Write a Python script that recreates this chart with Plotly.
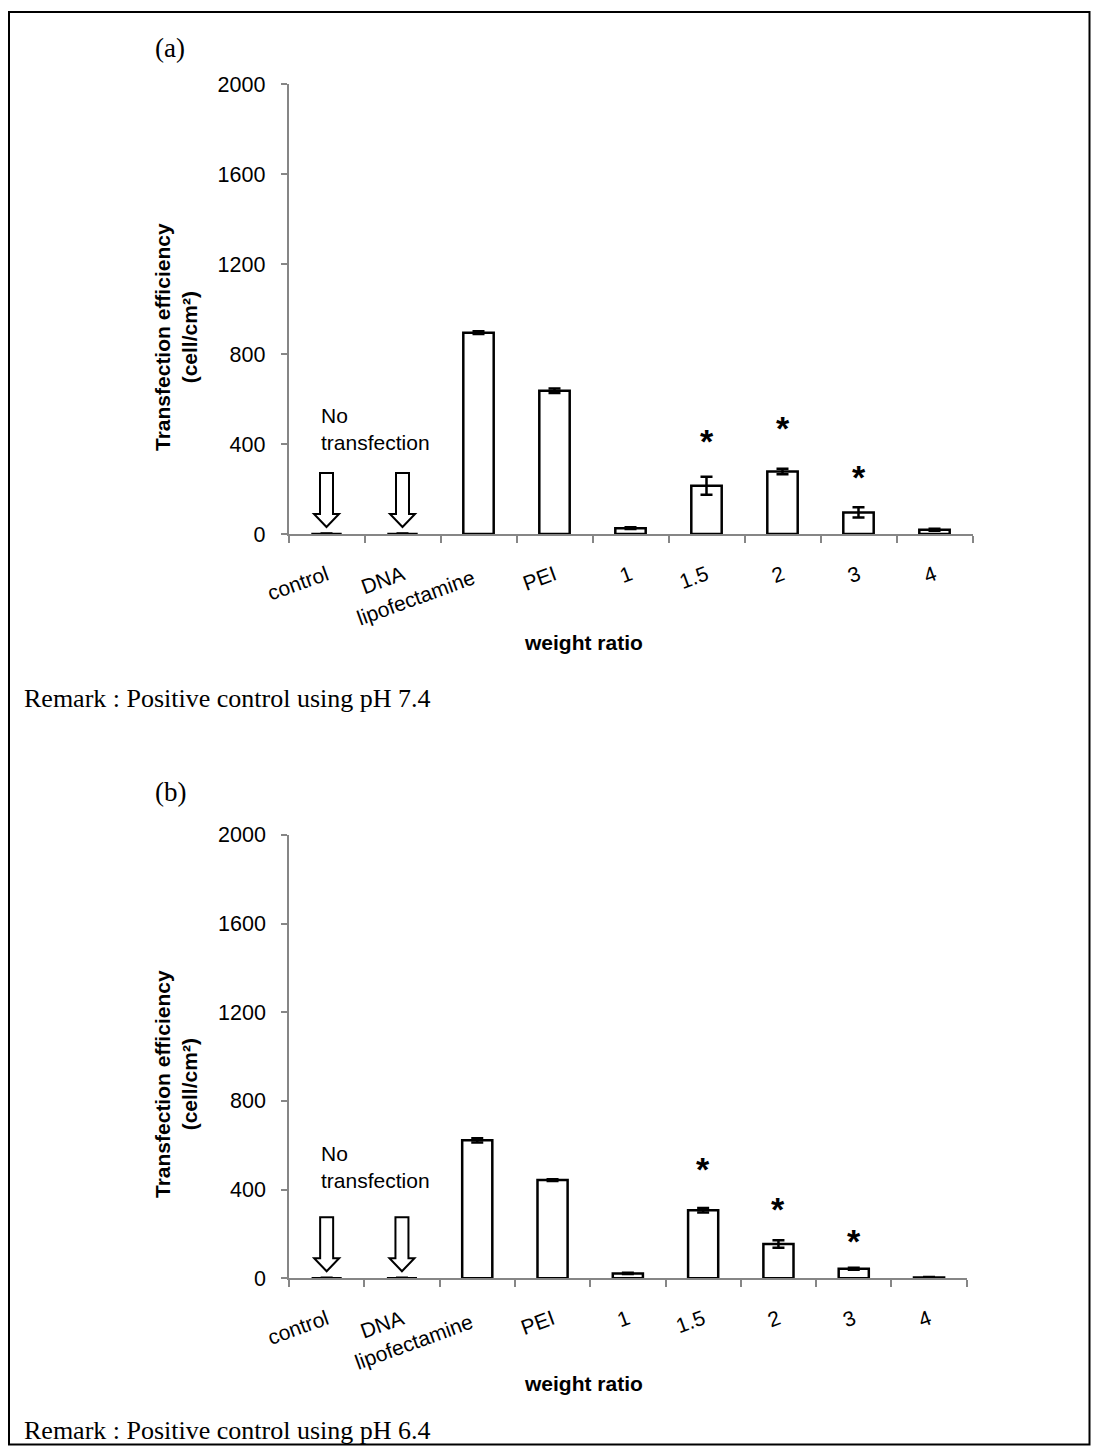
import plotly.graph_objects as go

# ---------------- data ----------------
categories = ["control", "DNA", "lipofectamine", "PEI", "1", "1.5", "2", "3", "4"]
tick_labels = ["control", "DNA", "", "PEI", "1", "1.5", "2", "3", "4"]
dropped_label = "lipofectamine"   # drawn one line lower (staggered label)

eff_a = [0, 0, 895, 637, 26, 215, 278, 96, 19]
err_a = [2, 2, 6, 10, 4, 40, 12, 23, 4]
eff_b = [0, 0, 622, 443, 22, 307, 155, 43, 4]
err_b = [2, 2, 10, 4, 3, 10, 17, 5, 2]

star_cats = ["1.5", "2", "3"]
star_y_a = [428, 483, 265]
star_y_b = [507, 328, 182]

no_transfection_cats = ["control", "DNA"]
y_ticks = [0, 400, 800, 1200, 1600, 2000]

# ---------------- layout helpers ----------------
# figure is sized so that, with the page's 8px body margin, it fills 1099x1454 exactly
W, H = 1083, 1438
OFF = 8
def fx(px):
    return (px - OFF) / W
def fy(py):
    return 1 - (py - OFF) / H

FONT = "Liberation Sans"
SERIF = "Liberation Serif"
AXIS_GRAY = "#868686"

fig = go.Figure()

panels = [
    dict(vals=eff_a, errs=err_a, stars=star_y_a, xa="x", ya="y",
         xdom=[fx(288.5), fx(972.5)], ydom=[fy(534), fy(84)],
         label="(a)", label_y=48, remark="Remark : Positive control using pH 7.4", remark_y=698,
         title_y=337, xtitle_y=642, nt_y=429.5),
    dict(vals=eff_b, errs=err_b, stars=star_y_b, xa="x2", ya="y2",
         xdom=[fx(289), fx(966.7)], ydom=[fy(1278.3), fy(834.8)],
         label="(b)", label_y=792, remark="Remark : Positive control using pH 6.4", remark_y=1430,
         title_y=1084, xtitle_y=1383, nt_y=1166.5),
]

annotations = []
shapes = []

for i, p in enumerate(panels):
    fig.add_trace(go.Bar(
        x=categories, y=p["vals"], xaxis=p["xa"], yaxis=p["ya"],
        width=0.4,
        marker=dict(color="white", line=dict(color="black", width=2.5)),
        error_y=dict(type="data", array=p["errs"], color="black", thickness=2.5, width=6),
        showlegend=False, hoverinfo="x+y",
    ))
    sfx = "" if i == 0 else str(i + 1)
    fig.update_layout(**{
        "xaxis" + sfx: dict(
            domain=p["xdom"], anchor=p["ya"], type="category", automargin=False,
            categoryorder="array", categoryarray=categories,
            range=[-0.5, len(categories) - 0.5],
            tickmode="array", tickvals=categories, ticktext=tick_labels,
            tickangle=-20, ticks="outside", tickson="boundaries", ticklen=7,
            tickcolor=AXIS_GRAY, tickwidth=1.5,
            showline=True, linecolor=AXIS_GRAY, linewidth=1.5,
            showgrid=False, zeroline=False, ticklabelstandoff=19,
            tickfont=dict(family=FONT, size=21, color="black"), fixedrange=True,
        ),
        "yaxis" + sfx: dict(
            domain=p["ydom"], anchor=p["xa"], range=[0, 2000], automargin=False,
            tickmode="array", tickvals=y_ticks,
            ticks="outside", ticklen=6, tickcolor=AXIS_GRAY, tickwidth=1.5,
            showline=True, linecolor=AXIS_GRAY, linewidth=1.5,
            showgrid=False, zeroline=False, ticklabelstandoff=11,
            tickfont=dict(family=FONT, size=21.5, color="black"), fixedrange=True,
        ),
    })

    # staggered category label
    annotations.append(dict(
        x=categories.index(dropped_label), y=0, xref=p["xa"], yref=p["ya"] + " domain",
        text=dropped_label, showarrow=False, textangle=-20,
        xanchor="right", yanchor="top", xshift=2, yshift=-29,
        font=dict(family=FONT, size=21, color="black"),
    ))

    # significance stars
    for c, yv in zip(star_cats, p["stars"]):
        annotations.append(dict(
            x=categories.index(c), y=yv, xref=p["xa"], yref=p["ya"], text="<b>*</b>", showarrow=False,
            font=dict(family=FONT, size=34, color="black"), yshift=-3,
            xanchor="center", yanchor="middle",
        ))

    # hollow "no transfection" arrows
    for c in no_transfection_cats:
        shapes.append(dict(
            type="path", xref=p["xa"], yref=p["ya"],
            xsizemode="pixel", ysizemode="pixel", xanchor=categories.index(c), yanchor=0,
            path="M -6.5,61 L 6.5,61 L 6.5,20 L 12.5,20 L 0,7 L -12.5,20 L -6.5,20 Z",
            line=dict(color="black", width=2), fillcolor="white", layer="above",
        ))

    annotations.append(dict(
        x=fx(319), y=fy(p["nt_y"]), xref="paper", yref="paper",
        text="No<br>transfection", showarrow=False, align="left",
        xanchor="left", yanchor="middle",
        font=dict(family=FONT, size=21, color="black"),
    ))
    annotations.append(dict(
        x=fx(176), y=fy(p["title_y"]), xref="paper", yref="paper",
        text="<b>Transfection efficiency<br>(cell/cm²)</b>", showarrow=False,
        textangle=-90, xanchor="center", yanchor="middle",
        font=dict(family=FONT, size=21, color="black"),
    ))
    annotations.append(dict(
        x=fx(583), y=fy(p["xtitle_y"]), xref="paper", yref="paper",
        text="<b>weight ratio</b>", showarrow=False,
        xanchor="center", yanchor="middle",
        font=dict(family=FONT, size=21, color="black"),
    ))
    annotations.append(dict(
        x=fx(170), y=fy(p["label_y"]), xref="paper", yref="paper",
        text=p["label"], showarrow=False, xanchor="center", yanchor="middle",
        font=dict(family=SERIF, size=27, color="black"),
    ))
    annotations.append(dict(
        x=fx(22), y=fy(p["remark_y"]), xref="paper", yref="paper",
        text=p["remark"], showarrow=False, xanchor="left", yanchor="middle",
        font=dict(family=SERIF, size=26, color="black"),
    ))

# outer frame (kept inside the figure area)
shapes.append(dict(
    type="rect", xref="paper", yref="paper",
    x0=fx(9), x1=fx(1089.5), y0=fy(1444.5), y1=fy(12),
    line=dict(color="black", width=2), fillcolor="rgba(0,0,0,0)", layer="below",
))

fig.update_layout(
    width=W, height=H, margin=dict(l=0, r=0, t=0, b=0, autoexpand=False),
    paper_bgcolor="white", plot_bgcolor="white",
    showlegend=False, annotations=annotations, shapes=shapes,
    font=dict(family=FONT, color="black"),
)

fig.write_html("out.html")
